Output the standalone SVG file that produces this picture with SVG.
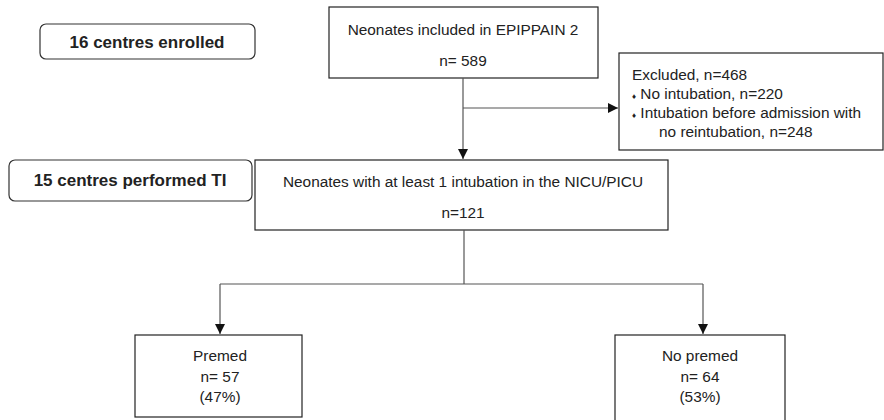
<svg xmlns="http://www.w3.org/2000/svg" width="884" height="420" viewBox="0 0 884 420">
<style>
.box{fill:#fff;stroke:#222;stroke-width:1.2}
.rbox{fill:#fff;stroke:#333;stroke-width:1.2}
.t{font-family:"Liberation Sans",Arial,sans-serif;font-size:15.4px;fill:#222}
.c{text-anchor:middle}
.b{font-family:"Liberation Sans",Arial,sans-serif;font-size:17px;font-weight:bold;fill:#222;text-anchor:middle}
.ln{fill:none;stroke:#555;stroke-width:1.2}
.bul{font-size:8px}
</style>
<defs>
<marker id="ah" viewBox="0 0 10 10" refX="10" refY="5" markerWidth="10" markerHeight="10" markerUnits="userSpaceOnUse" orient="auto">
<path d="M0,0 L10,5 L0,10 z" fill="#111"/>
</marker>
</defs>
<g id="centres16">
<rect class="rbox" x="40" y="24" width="215" height="35" rx="6"/>
<text class="b" x="147" y="48">16 centres enrolled</text>
</g>
<g id="centres15">
<rect class="rbox" x="9" y="160" width="243" height="41" rx="6"/>
<text class="b" x="130" y="186">15 centres performed TI</text>
</g>
<g id="included">
<rect class="box" x="329" y="7" width="269" height="71"/>
<text class="t c" x="463" y="35">Neonates included in EPIPPAIN 2</text>
<text class="t c" x="463" y="66">n= 589</text>
</g>
<g id="excluded">
<rect class="box" x="619" y="53" width="264" height="97"/>
<text class="t" x="632" y="80">Excluded, n=468</text>
<text class="t" x="632" y="99"><tspan class="bul">♦</tspan> No intubation, n=220</text>
<text class="t" x="632" y="118"><tspan class="bul">♦</tspan> Intubation before admission with</text>
<text class="t" x="659" y="137">no reintubation, n=248</text>
</g>
<g id="intubated">
<rect class="box" x="255" y="160" width="413" height="70"/>
<text class="t c" x="463" y="187">Neonates with at least 1 intubation in the NICU/PICU</text>
<text class="t c" x="463" y="218">n=121</text>
</g>
<g id="premed">
<rect class="box" x="135" y="335" width="167" height="82"/>
<text class="t c" x="220" y="361">Premed</text>
<text class="t c" x="220" y="382">n= 57</text>
<text class="t c" x="220" y="402">(47%)</text>
</g>
<g id="nopremed">
<rect class="box" x="615" y="335" width="170" height="90"/>
<text class="t c" x="700" y="361">No premed</text>
<text class="t c" x="700" y="382">n= 64</text>
<text class="t c" x="700" y="402">(53%)</text>
</g>
<g id="connectors">
<path class="ln" d="M463,78 V159" marker-end="url(#ah)"/>
<path class="ln" d="M463,108 H618" marker-end="url(#ah)"/>
<path class="ln" d="M464,230 V284"/>
<path class="ln" d="M220,284 H703"/>
<path class="ln" d="M220,284 V334" marker-end="url(#ah)"/>
<path class="ln" d="M703,284 V334" marker-end="url(#ah)"/>
</g>
</svg>
